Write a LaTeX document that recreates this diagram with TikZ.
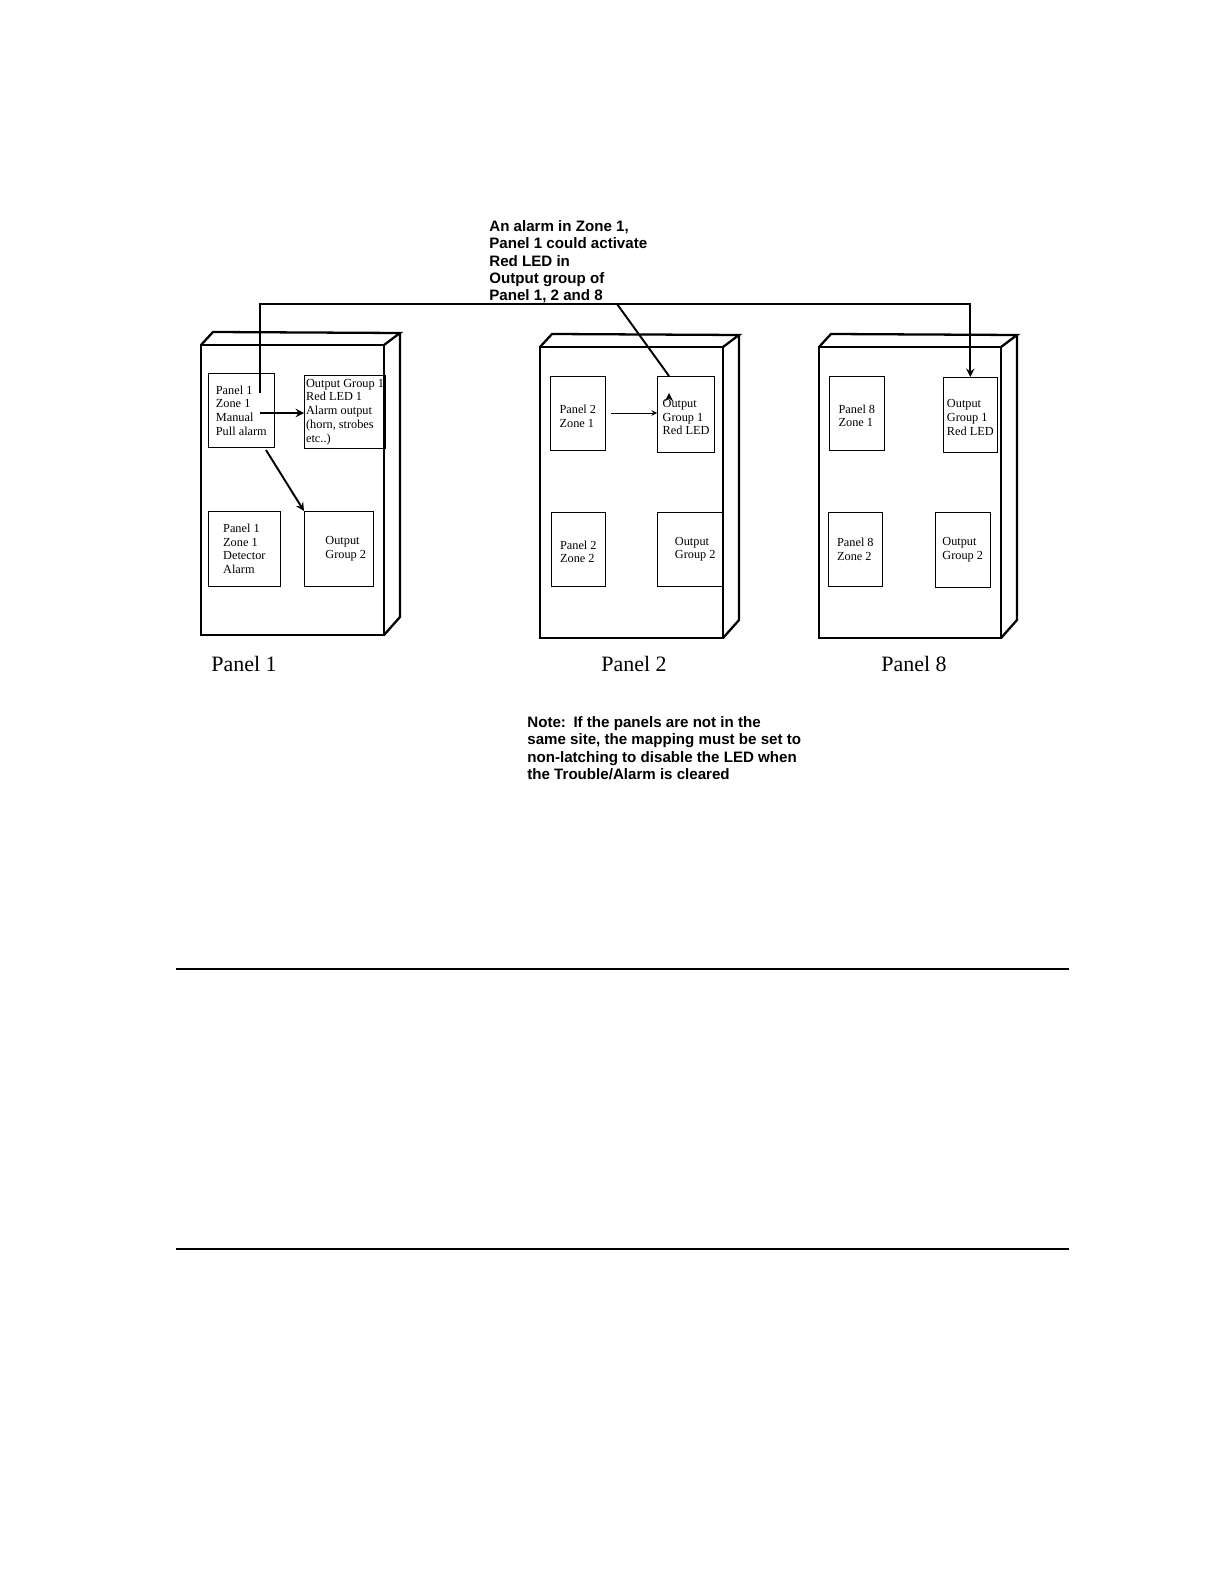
\documentclass[tikz,border=0pt]{standalone}
\usepackage{fontspec}
\setmainfont{Liberation Serif}
\newfontfamily\notefont{Liberation Sans}
\begin{document}
\begin{tikzpicture}[x=0.02cm,y=-0.02cm,
    cabinet/.style={draw,line width=1.3pt},
    cell/.style={draw,line width=0.4pt,inner sep=1pt,align=left,anchor=north west,font=\fontsize{7}{7.8}\selectfont},
    link/.style={line width=1.1pt,-stealth},
    caption/.style={font=\fontsize{12.5}{14}\selectfont},
    note/.style={font=\notefont\bfseries\fontsize{8.6}{9.9}\selectfont,align=left,anchor=north west,inner sep=0pt}]
  \useasboundingbox (0,0) rectangle (1224,1584);
  % cabinets
  \foreach \xa/\xb/\ya/\yb in {201/384/345/635, 540/723/347/638, 819/1001/347/638} {
    \draw[cabinet] (\xa,\ya) rectangle (\xb,\yb);
    \draw[cabinet] (\xa,\ya) -- (\xa+12,\ya-13) -- (\xb+16,\ya-12) -- (\xb,\ya);
    \draw[cabinet] (\xb+16,\ya-12) -- (\xb+16,\yb-18) -- (\xb,\yb);
  }
  % panel 1
  \node[cell,minimum width=66*0.02cm,minimum height=74*0.02cm] (p1z1) at (208,373) {Panel 1\\Zone 1\\Manual\\Pull alarm};
  \node[cell,minimum width=74*0.02cm,minimum height=73*0.02cm] (p1og1) at (304,375) {Output Group 1\\Red LED 1\\Alarm output\\(horn, strobes\\etc..)};
  \node[cell,minimum width=72*0.02cm,minimum height=75*0.02cm] (p1z1d) at (208,511) {Panel 1\\Zone 1\\Detector\\Alarm};
  \node[cell,minimum width=68*0.02cm,minimum height=75*0.02cm,inner sep=4pt] (p1og2) at (304,511) {\hspace*{8pt}Output\\\hspace*{8pt}Group 2};
  % panel 2
  \node[cell,minimum width=55*0.02cm,minimum height=74*0.02cm,inner sep=3pt,text depth=0pt] (p2z1) at (550,376) {\\Panel 2\\Zone 1};
  \node[cell,minimum width=55*0.02cm,minimum height=76*0.02cm,inner sep=3pt] (p2og1) at (657,376) {\\Output\\Group 1\\Red LED};
  \node[cell,minimum width=54*0.02cm,minimum height=74*0.02cm] (p2z2) at (551,512) {\\Panel 2\\Zone 2};
  \node[cell,minimum width=55*0.02cm,minimum height=74*0.02cm,inner sep=4pt] (p2og2) at (657,512) {\hspace*{6pt}Output\\\hspace*{6pt}Group 2};
  % panel 8
  \node[cell,minimum width=55*0.02cm,minimum height=74*0.02cm] (p8z1) at (829,376) {\\Panel 8\\Zone 1};
  \node[cell,minimum width=54*0.02cm,minimum height=75*0.02cm] (p8og1) at (943,377) {\\Output\\Group 1\\Red LED};
  \node[cell,minimum width=54*0.02cm,minimum height=74*0.02cm,inner sep=3pt] (p8z2) at (828,512) {Panel 8\\Zone 2};
  \node[cell,minimum width=54*0.02cm,minimum height=75*0.02cm,inner sep=4pt] (p8og2) at (935,512) {Output\\Group 2};
  % connectors
  \coordinate (tap) at (260,393);
  \coordinate (bend) at (617,304);
  \draw[line width=1.1pt] (tap) |- (bend);
  \draw[link] (bend) -| (p8og1.north);
  \draw[link] (bend) -- (p2og1.north west -| 669,376) ++(0,17);
  \draw[link] (260,413) -- (p1og1.west |- 0,413);
  \draw[link] (266,450) -- (p1og2.north west);
  \draw[line width=0.4pt,-stealth] (611,413) -- (p2og1.west |- 0,413);
  % captions
  \node[caption] (cap1) at (244,664) {Panel 1};
  \node[caption] (cap2) at (634,664) {Panel 2};
  \node[caption] (cap8) at (914,664) {Panel 8};
  \node[note] (hint) at (489,220) {An alarm in Zone 1,\\Panel 1 could activate\\Red LED in\\Output group of\\Panel 1, 2 and 8};
  \node[note] (remark) at (527,716) {Note:\enspace If the panels are not in the\\same site, the mapping must be set to\\non-latching to disable the LED when\\the Trouble/Alarm is cleared};
  % rules
  \draw[line width=1pt] (176,969) -- (1069,969);
  \draw[line width=1pt] (176,1249) -- (1069,1249);
\end{tikzpicture}
\end{document}
